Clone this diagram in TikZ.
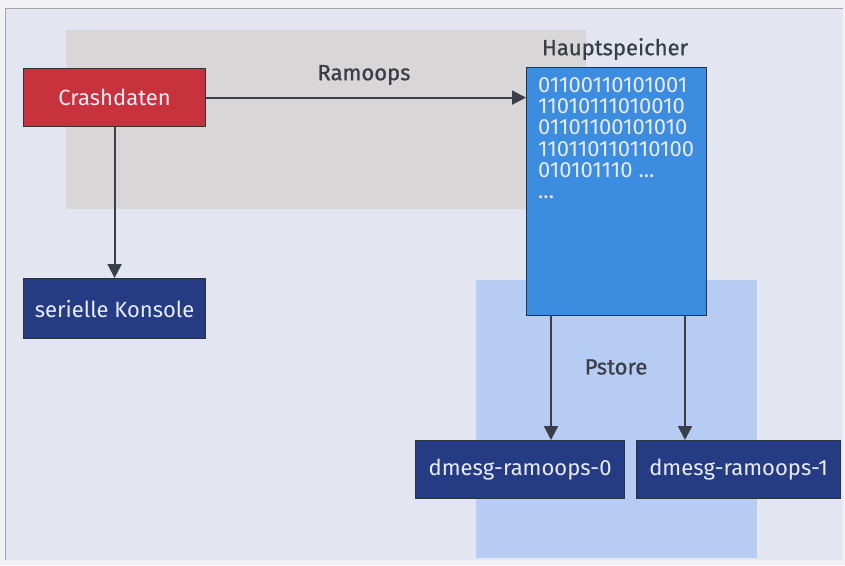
\documentclass[tikz,border=0pt]{standalone}
\usepackage{fontspec}
\setmainfont{Fira Sans}
\newfontfamily\bitsfont[Numbers=Proportional]{Fira Sans}
\newfontfamily\medfont[BoldFont=Fira Sans, BoldFeatures={FakeBold=0.8}]{Fira Sans}
\usetikzlibrary{arrows.meta}
\definecolor{pagebg}{HTML}{F2F2F4}
\definecolor{framebg}{HTML}{E3E5F1}
\definecolor{grayarea}{HTML}{D8D6D6}
\definecolor{pstorearea}{HTML}{B6CCF3}
\definecolor{crashred}{HTML}{C8323C}
\definecolor{memblue}{HTML}{3C8CE0}
\definecolor{navy}{HTML}{253C84}
\definecolor{labelgray}{HTML}{3A3E48}
\definecolor{boxtext}{HTML}{E9ECF8}
\tikzset{
  px/.style={x=1pt,y=-1pt},
  boxnode/.style={draw=labelgray!80!black, line width=1.2pt, inner sep=0pt, anchor=north west},
  boxtxt/.style={text=boxtext, font=\fontsize{22}{25}\selectfont},
  lbl/.style={text=labelgray, font=\medfont\bfseries\fontsize{22}{25}\selectfont},
  conn/.style={-{Triangle[width=14pt,length=14pt]}, line width=2pt, draw=labelgray}
}
\begin{document}
\begin{tikzpicture}[px]
\useasboundingbox (0,0) rectangle (845,565);
\fill[pagebg] (0,0) rectangle (845,565);
\fill[framebg] (5,8) rectangle (843,560);
\draw[gray!70, line width=0.8pt] (843,8) -- (5,8) -- (5,560);
% areas
\fill[grayarea] (66,30) rectangle (586,209);
\fill[pstorearea] (476,280) rectangle (757,558);
% nodes
\node[boxnode, fill=crashred, minimum width=182pt, minimum height=58pt] (crash) at (23,68) {};
\node[boxtxt] (crasht) at (crash.center) {Crashdaten};
\node[boxnode, fill=navy, minimum width=182pt, minimum height=60pt] (serial) at (23,278) {};
\node[boxtxt] (serialt) at (serial.center) {serielle Konsole};
\node[boxnode, fill=memblue, minimum width=180pt, minimum height=248pt] (mem) at (526,67) {};
\node[text=boxtext, font=\bitsfont\fontsize{22}{21.3}\selectfont, anchor=north west, align=left, inner sep=0pt] (bits) at (538,77) {01100110101001\\11010111010010\\01101100101010\\110110110110100\\010101110 ...\\...};
\node[boxnode, fill=navy, minimum width=209pt, minimum height=58pt] (d0) at (415,440) {};
\node[boxtxt] (d0t) at (d0.center) {dmesg-ramoops-0};
\node[boxnode, fill=navy, minimum width=204pt, minimum height=58pt] (d1) at (636,440) {};
\node[boxtxt] (d1t) at (d1.center) {dmesg-ramoops-1};
% labels
\node[lbl] (hs) at (615,49) {Hauptspeicher};
\node[lbl] (ram) at (364,75) {Ramoops};
\node[lbl] (ps) at (616,367) {Pstore};
% connectors
\coordinate (m0) at (551,315);
\coordinate (m1) at (685,315);
\draw[conn] (crash.east) -- (crash.east -| mem.west);
\draw[conn] (crash.south) -- (serial.north);
\draw[conn] (m0) -- (m0 |- d0.north);
\draw[conn] (m1) -- (m1 |- d1.north);
\end{tikzpicture}
\end{document}
